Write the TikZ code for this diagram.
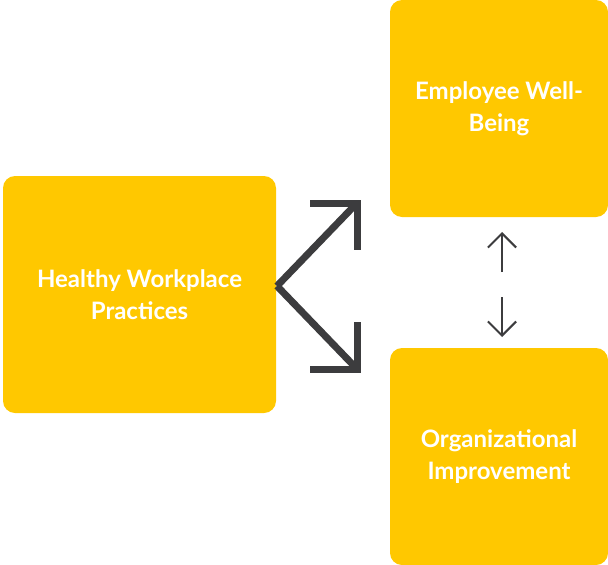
\documentclass[tikz,border=0pt]{standalone}
\usepackage{fontspec}
\setmainfont{Lato}
\usetikzlibrary{arrows.meta}
\definecolor{gold}{HTML}{FFC800}
\definecolor{darkgrey}{HTML}{3C3C3E}
\tikzstyle{goldbox}=[
    fill=gold,
    rounded corners=12pt,
    text=white,
    align=center,
    font=\fontsize{24}{32}\selectfont\bfseries,
  ]
\tikzstyle{fork}=[
    darkgrey,
    line width=7pt,
    line join=miter,
  ]
\tikzstyle{thin}=[
    darkgrey,
    line width=2pt,
    -{Straight Barb[angle=90:20pt]},
  ]
\begin{document}
\begin{tikzpicture}[x=1pt,y=-1pt]
      \useasboundingbox (0,0) rectangle (608,565);
      \node[goldbox, minimum width=273pt, minimum height=237pt] (practices) at (139.5,294.5) {Healthy Workplace\\Practices};
      \node[goldbox, minimum width=218pt, minimum height=217pt] (wellbeing) at (499,108.5) {Employee Well-\\Being};
      \node[goldbox, minimum width=218pt, minimum height=217pt] (improvement) at (499,456.5) {Organizational\\Improvement};
      \coordinate (vertex) at (277,286);
      \coordinate (uptip) at (357,203);
      \coordinate (downtip) at (357,369);
      \draw[fork] (vertex) -- (uptip);
      \draw[fork] ([xshift=-47pt]uptip) -- (uptip) -- ([yshift=-47pt]uptip);
      \draw[fork] (vertex) -- (downtip);
      \draw[fork] ([xshift=-47pt]downtip) -- (downtip) -- ([yshift=47pt]downtip);
      \coordinate (a) at (502,272);
      \coordinate (b) at (502,297);
      \draw[thin] (a) -- ([yshift=40pt]a);
      \draw[thin] (b) -- ([yshift=-40pt]b);
    \end{tikzpicture}
\end{document}
